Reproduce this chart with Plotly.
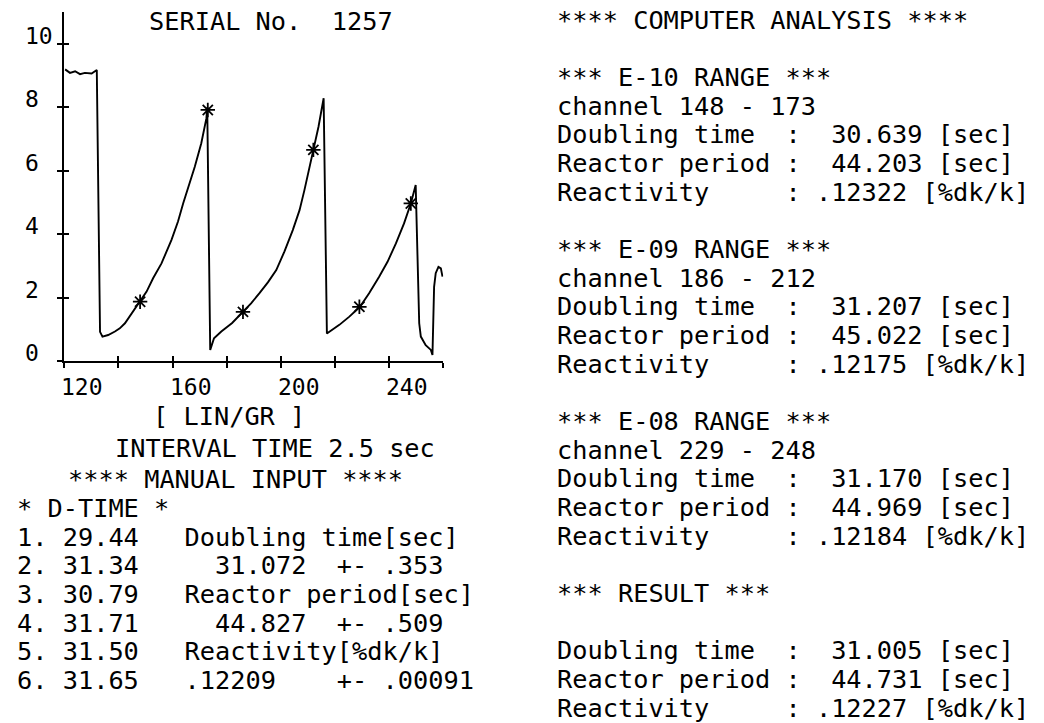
import plotly.graph_objects as go

# ---------------- data ----------------
channel = [120.3, 122.1, 124.0, 125.8, 127.6, 130.1, 132.0,
           133.2, 134.1, 136.2, 138.7, 140.5, 142.4, 144.8, 147.9, 150.4, 152.8, 155.9,
           159.6, 162.0, 163.9, 165.7, 168.2, 170.6, 172.5, 172.8,
           173.9, 175.3, 178.0, 182.0, 186.0, 189.0, 192.1, 195.2, 198.3, 201.3,
           204.4, 206.9, 208.7, 210.5, 211.8, 213.9, 215.8,
           217.0, 221.6, 225.3, 229.2, 232.6, 236.3, 239.4, 242.5, 245.5, 248.0, 249.8,
           251.1, 251.7, 253.5, 255.4, 256.0, 256.3, 256.6, 257.2, 258.2, 259.1, 259.7]
signal = [9.20, 9.09, 9.14, 9.05, 9.09, 9.07, 9.18,
          0.92, 0.77, 0.82, 0.93, 1.03, 1.19, 1.50, 1.87, 2.19, 2.61, 3.08,
          3.82, 4.40, 4.97, 5.45, 6.13, 6.87, 7.66, 8.00,
          0.35, 0.72, 0.93, 1.20, 1.56, 1.82, 2.14, 2.48, 2.87, 3.45,
          4.13, 4.76, 5.39, 6.08, 6.66, 7.39, 8.29,
          0.87, 1.14, 1.40, 1.71, 2.14, 2.66, 3.13, 3.71, 4.34, 4.97, 5.55,
          1.19, 0.77, 0.50, 0.35, 0.19, 1.40, 2.34, 2.77, 2.97, 2.92, 2.66]

mark_channel = [148, 173, 186, 212, 229, 248]
mark_signal = [1.87, 7.92, 1.55, 6.66, 1.71, 4.97]

x_ticks = [120, 140, 160, 180, 200, 220, 240, 260]
x_labels = [120, 160, 200, 240]
y_ticks = [0, 2, 4, 6, 8, 10]
y_labels = ["0", "2", "4", "6", "8", "10"]

serial_text = "SERIAL No.  1257"
axis_text = "[ LIN/GR ]"
interval_text = "INTERVAL TIME 2.5 sec"
manual_header = "**** MANUAL INPUT ****"
dtime_header = "* D-TIME *"
d_times = ["29.44", "31.34", "30.79", "31.71", "31.50", "31.65"]
manual_right = ["Doubling time[sec]", "  31.072  +- .353", "Reactor period[sec]",
                "  44.827  +- .509", "Reactivity[%dk/k]", ".12209    +- .00091"]

right_lines = [
    "**** COMPUTER ANALYSIS ****", "",
    "*** E-10 RANGE ***", "channel 148 - 173",
    "Doubling time  :  30.639 [sec]", "Reactor period :  44.203 [sec]",
    "Reactivity     : .12322 [%dk/k]", "",
    "*** E-09 RANGE ***", "channel 186 - 212",
    "Doubling time  :  31.207 [sec]", "Reactor period :  45.022 [sec]",
    "Reactivity     : .12175 [%dk/k]", "",
    "*** E-08 RANGE ***", "channel 229 - 248",
    "Doubling time  :  31.170 [sec]", "Reactor period :  44.969 [sec]",
    "Reactivity     : .12184 [%dk/k]", "",
    "*** RESULT ***", "",
    "Doubling time  :  31.005 [sec]", "Reactor period :  44.731 [sec]",
    "Reactivity     : .12227 [%dk/k]",
]

# ---------------- layout helpers ----------------
W, H = 1044, 723
FONT = "DejaVu Sans Mono"
BIG = 25.3
SMALL = 23


def px(x):
    return x / W


def py(y):
    return 1 - y / H


def nb(s):
    return s.replace(" ", "\u00a0")


fig = go.Figure()
fig.add_trace(go.Scatter(x=channel, y=signal, mode="lines",
                         line=dict(color="black", width=1.9),
                         hoverinfo="skip", showlegend=False))
fig.add_trace(go.Scatter(x=mark_channel, y=mark_signal, mode="markers",
                         marker=dict(symbol="asterisk-open", size=12, color="black",
                                     line=dict(color="black", width=1.8)),
                         xaxis="x2", yaxis="y2",
                         hoverinfo="skip", showlegend=False))

XD = [px(64.3), px(443.3)]
YD = [py(361), py(12.3)]
XR = [120, 260]
YR = [0, 11]

common = dict(showgrid=False, zeroline=False, showticklabels=False,
              tickcolor="black", tickwidth=1.5, ticklen=5)
fig.update_layout(
    width=W, height=H,
    margin=dict(l=0, r=0, t=0, b=0),
    paper_bgcolor="white", plot_bgcolor="white",
    xaxis=dict(domain=XD, range=XR, tickvals=x_ticks, ticks="outside",
               showline=True, linecolor="black", linewidth=2, anchor="y", **common),
    yaxis=dict(domain=YD, range=YR, tickvals=y_ticks, ticks="outside",
               showline=True, linecolor="black", linewidth=2, anchor="x", **common),
    xaxis2=dict(domain=XD, range=XR, tickvals=x_ticks, ticks="inside",
                overlaying="x", anchor="y", side="bottom", showline=False, **common),
    yaxis2=dict(domain=YD, range=YR, tickvals=y_ticks, ticks="inside",
                overlaying="y", anchor="x", side="left", showline=False, **common),
)

ann = []


def text(x, y, s, size=BIG, **kw):
    d = dict(x=x, y=y, text=nb(s), showarrow=False, xanchor="left",
             yanchor="middle", borderpad=0, borderwidth=0,
             font=dict(family=FONT, size=size, color="black"))
    if "xref" not in kw:
        d["xref"] = "paper"
    if "yref" not in kw:
        d["yref"] = "paper"
    d.update(kw)
    ann.append(d)


# tick labels
for v in x_labels:
    text(v, 0, str(v), size=SMALL, xref="x", yref="y", yshift=-26, xshift=-3)
for v, lab in zip(y_ticks, y_labels):
    text(px(25), v, lab, size=SMALL, yref="y", yshift=8)

# left column
text(px(148.5), py(21), serial_text)
text(px(153), py(417), axis_text)
text(px(115), py(448), interval_text)
text(px(68), py(479.5), manual_header)
text(px(17), py(508.5), dtime_header)
LX = 17
for i, (d, r) in enumerate(zip(d_times, manual_right)):
    y = 537 + 28.67 * i
    text(px(LX), py(y), f"{i + 1}. {d}   {r}")

# right column
RX = 556.5
for n, s in enumerate(right_lines):
    if s:
        text(px(RX), py(20 + 28.67 * n), s)

fig.update_layout(annotations=ann)
fig.write_html("out.html")
